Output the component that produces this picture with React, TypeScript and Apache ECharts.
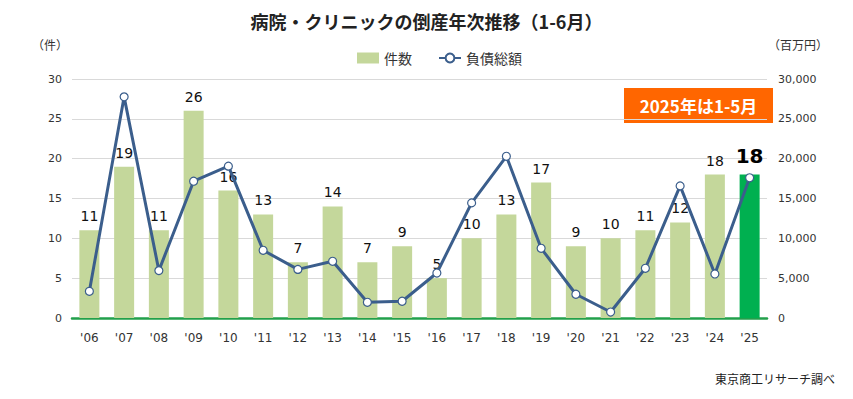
import React, { useEffect, useRef } from "react";
import * as echarts from "echarts";

const years = ["'06", "'07", "'08", "'09", "'10", "'11", "'12", "'13", "'14", "'15", "'16", "'17", "'18", "'19", "'20", "'21", "'22", "'23", "'24", "'25"];
const counts = [11, 19, 11, 26, 16, 13, 7, 14, 7, 9, 5, 10, 13, 17, 9, 10, 11, 12, 18, 18];
const debts = [3350, 27760, 5950, 17170, 19060, 8500, 6100, 7120, 1970, 2100, 5650, 14450, 20300, 8750, 2980, 750, 6240, 16580, 5530, 17600];
const leftTicks = { min: 0, max: 30, interval: 5 };
const rightTicks = { min: 0, max: 30000, interval: 5000 };

const JP = "'Noto Sans CJK JP', 'Noto Sans', sans-serif";
const NUM = "'DejaVu Sans', 'Noto Sans', sans-serif";

export default function App() {
  const ref = useRef<HTMLDivElement>(null);
  useEffect(() => {
    if (!ref.current) return;
    const chart = echarts.init(ref.current, undefined, { renderer: "svg" });
    const last = counts.length - 1;
    chart.setOption({
      animation: false,
      backgroundColor: "#ffffff",
      title: {
        text: "病院・クリニックの倒産年次推移（1-6月）",
        left: "center",
        top: 7,
        textStyle: { fontFamily: JP, fontSize: 18, fontWeight: "bold", color: "#222" },
      },
      legend: {
        top: 46,
        left: 352,
        itemGap: 26,
        itemWidth: 22,
        itemHeight: 11,
        textStyle: { fontFamily: JP, fontSize: 14, color: "#333" },
        data: [
          { name: "件数", icon: "rect" },
          { name: "負債総額" },
        ],
      },
      grid: { left: 72, right: 86, top: 79, bottom: 81 },
      xAxis: {
        type: "category",
        data: years,
        axisTick: { show: false },
        axisLine: { show: true, lineStyle: { color: "#22a04b", width: 2.5 } },
        axisLabel: { fontFamily: NUM, fontSize: 12, color: "#333", margin: 14 },
      },
      yAxis: [
        {
          type: "value",
          min: leftTicks.min,
          max: leftTicks.max,
          interval: leftTicks.interval,
          axisLine: { show: false },
          axisTick: { show: false },
          splitLine: { lineStyle: { color: "#d9d9d9", width: 1 } },
          axisLabel: { fontFamily: NUM, fontSize: 11, color: "#333", margin: 10 },
        },
        {
          type: "value",
          min: rightTicks.min,
          max: rightTicks.max,
          interval: rightTicks.interval,
          axisLine: { show: false },
          axisTick: { show: false },
          splitLine: { show: false },
          axisLabel: {
            fontFamily: NUM,
            fontSize: 11,
            color: "#333",
            margin: 11,
            formatter: (v: number) => v.toLocaleString("en-US"),
          },
        },
      ],
      series: [
        {
          name: "件数",
          type: "bar",
          yAxisIndex: 0,
          barWidth: 20,
          itemStyle: { color: "#c4d79b" },
          label: {
            show: true,
            position: "top",
            distance: 7,
            fontFamily: NUM,
            fontSize: 14,
            color: "#111",
          },
          data: counts.map((v, i) =>
            i === last
              ? {
                  value: v,
                  itemStyle: { color: "#00b050" },
                  label: { fontSize: 20, fontWeight: "bold", color: "#000", distance: 9 },
                }
              : v
          ),
          z: 1,
        },
        {
          name: "負債総額",
          type: "line",
          yAxisIndex: 1,
          data: debts,
          symbol: "circle",
          symbolSize: 8,
          showAllSymbol: true,
          lineStyle: { color: "#3b5e8c", width: 3 },
          itemStyle: { color: "#ffffff", borderColor: "#3b5e8c", borderWidth: 1.2 },
          z: 3,
        },
      ],
      graphic: [
        {
          type: "text",
          left: 32,
          top: 38,
          style: { text: "（件）", font: `12px ${JP}`, fill: "#333" },
        },
        {
          type: "text",
          left: 768,
          top: 38,
          style: { text: "（百万円）", font: `12px ${JP}`, fill: "#333" },
        },
        {
          type: "group",
          left: 624,
          top: 88,
          children: [
            { type: "rect", shape: { x: 0, y: 0, width: 149, height: 35 }, style: { fill: "#ff6600" } },
            {
              type: "text",
              x: 74.5,
              y: 17.5,
              style: {
                text: "2025年は1-5月",
                font: `bold 17px ${JP}`,
                fill: "#ffffff",
                align: "center",
                verticalAlign: "middle",
              },
            },
          ],
        },
        {
          type: "text",
          right: 18,
          top: 372,
          style: { text: "東京商工リサーチ調べ", font: `12px ${JP}`, fill: "#222" },
        },
      ],
    });
    return () => chart.dispose();
  }, []);
  return <div ref={ref} style={{ width: 853, height: 399, position: "absolute", left: 0, top: 0 }} />;
}
